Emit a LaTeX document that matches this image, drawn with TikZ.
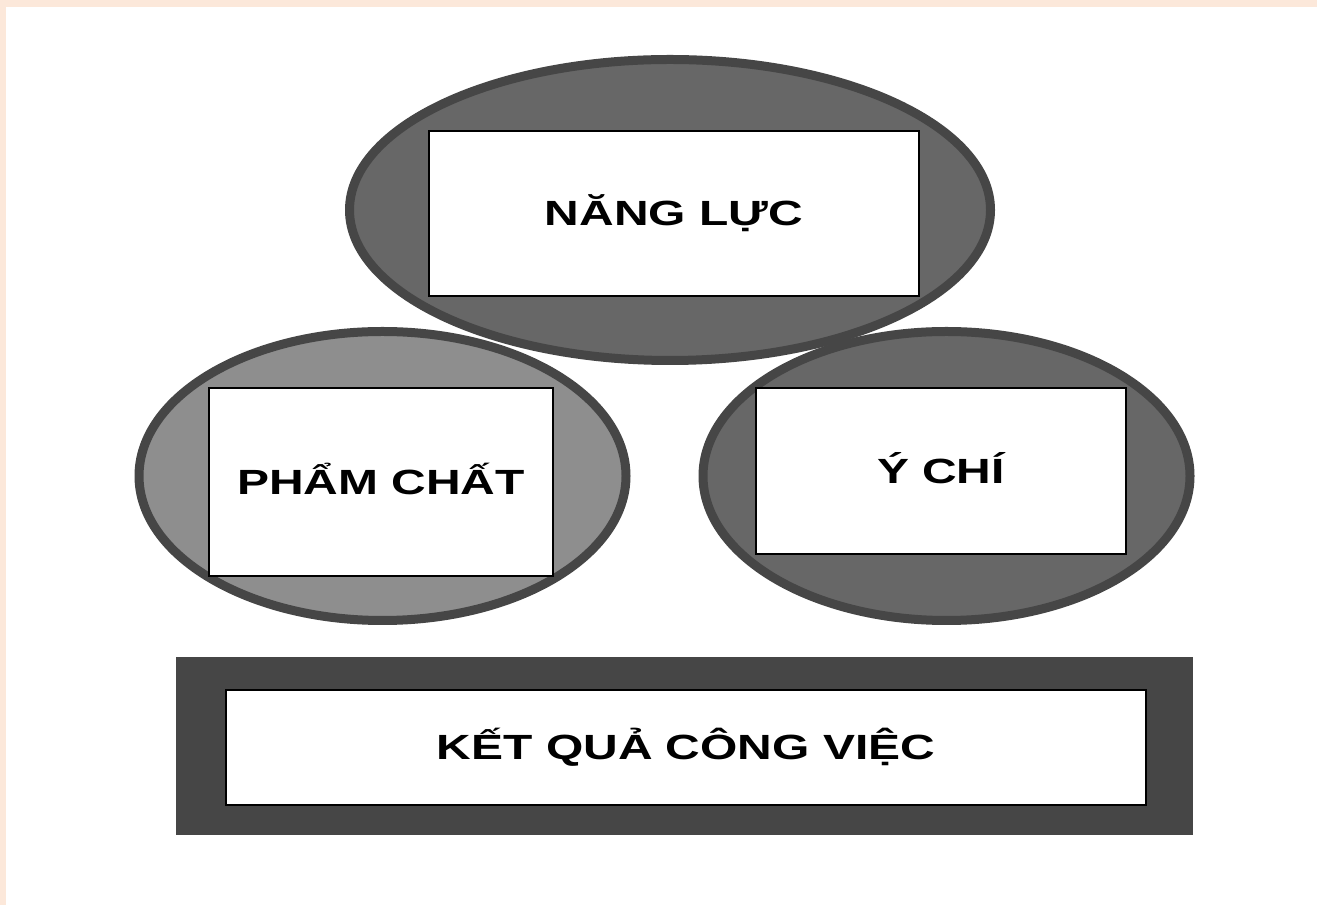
\documentclass[tikz,border=0pt]{standalone}
\usepackage{fontspec}
\newfontfamily\lblfont[FakeStretch=1.37]{Liberation Sans}
\usepackage{tikz}
\usetikzlibrary{shapes.geometric}
\definecolor{paper}{HTML}{FCE8DA}
\definecolor{rim}{HTML}{464646}
\definecolor{darkfill}{HTML}{676767}
\definecolor{lightfill}{HTML}{8E8E8E}

\begin{document}
\begin{tikzpicture}[x=1pt,y=1pt,
    oval/.style={ellipse,draw=rim,line width=9pt,inner sep=0pt},
    card/.style={rectangle,draw=black,line width=2pt,fill=white,inner sep=0pt,
      font=\lblfont\bfseries\fontsize{35}{40}\selectfont,
      text height=25pt,text depth=0pt}]
  % page and its tinted edges
  \fill[white] (0,0) rectangle (1317,905);
  \fill[paper] (0,0) rectangle (6,905);
  \fill[paper] (0,898) rectangle (1317,905);
  \useasboundingbox (0,0) rectangle (1317,905);
  % lower ovals first, the top one lies over them
  \foreach \nm/\cx/\fc in {phamchat/382.5/lightfill, ychi/946.5/darkfill}
    \node[oval,fill=\fc,minimum width=487pt,minimum height=289pt] (\nm) at (\cx,429) {};
  \node[oval,fill=darkfill,minimum width=641pt,minimum height=301pt] (nangluc) at (670,695) {};
  % white cards with the labels
  \node[card,minimum width=490pt,minimum height=165pt] (nanglucbox) at (674,691.5) {NĂNG LỰC};
  \node[card,minimum width=344pt,minimum height=188pt] (phamchatbox) at (381,423) {PHẨM CHẤT};
  \node[card,minimum width=370pt,minimum height=166pt] (ychibox) at (941,434) {Ý CHÍ};
  % result bar
  \node[fill=rim,inner sep=0pt,minimum width=1017pt,minimum height=178pt] (ketquaframe) at (684.5,159) {};
  \node[card,minimum width=920pt,minimum height=115pt] (ketqua) at (686,157.5) {KẾT QUẢ CÔNG VIỆC};
\end{tikzpicture}
\end{document}
